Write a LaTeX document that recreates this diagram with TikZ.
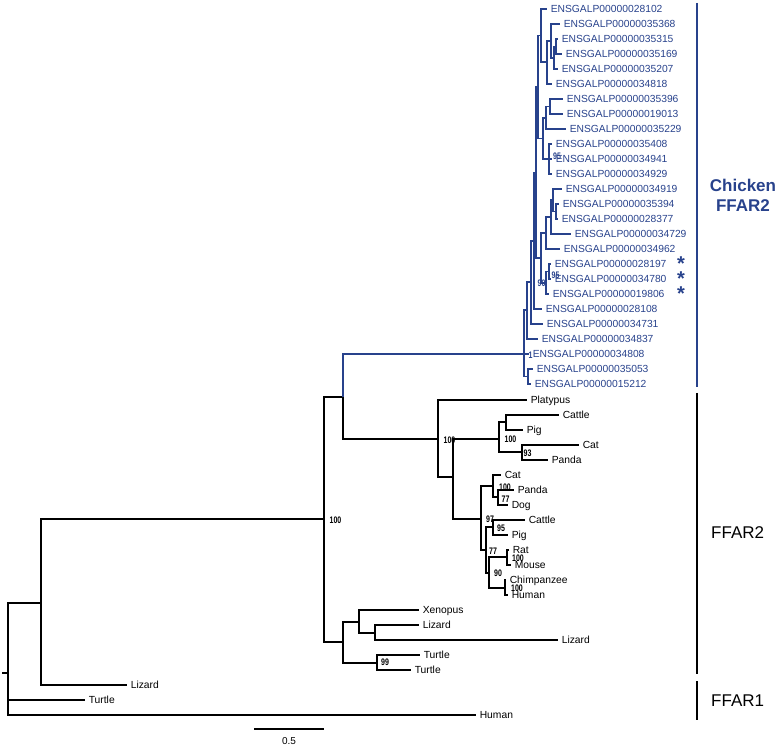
\documentclass[tikz,border=0pt]{standalone}
\usepackage{fontspec}
\usepackage{graphicx}
\setmainfont{Liberation Sans}
\definecolor{cblue}{RGB}{40,66,140}
\newcommand{\supnum}[1]{\scalebox{0.74}[1]{#1}}
\tikzset{
  br/.style={line width=1.3pt, black},
  bbr/.style={line width=1.1pt, cblue},
  tip/.style={anchor=west, inner xsep=3.6pt, inner ysep=0pt, text height=7.3pt, text depth=0pt, font=\fontsize{10.3}{12}\selectfont},
  btip/.style={tip, text=cblue},
  suplab/.style={inner sep=0pt, font=\fontsize{9.5}{9.5}\selectfont\bfseries},
  bsuplab/.style={suplab, text=cblue},
  cladebar/.style={line width=2pt},
}
\begin{document}
\begin{tikzpicture}[x=1pt,y=-1pt]
\useasboundingbox (0,0) rectangle (780,746);

% ---------- internal nodes (black) ----------
\coordinate (rootstub) at (2,673);
\coordinate (root) at (8,673);
\coordinate (A) at (41,603);
\coordinate (B) at (324,519);
\coordinate (C) at (343,397);
\coordinate (G) at (438,439);
\coordinate (H) at (453,477);
\coordinate (I) at (499,439);
\coordinate (K) at (506,422);
\coordinate (L) at (522,452);
\coordinate (J) at (481,519);
\coordinate (M) at (493,486);
\coordinate (PD) at (498,497);
\coordinate (O) at (486,550);
\coordinate (P) at (493,527);
\coordinate (Q) at (489,573);
\coordinate (R) at (507,557);
\coordinate (S) at (505,588);
\coordinate (D) at (343,642);
\coordinate (E) at (359,622);
\coordinate (E2) at (375,633);
\coordinate (F) at (377,663);

% ---------- black tips ----------
\node[tip] (platypus) at (527,400) {Platypus};
\node[tip] (cattle1) at (559,415) {Cattle};
\node[tip] (pig1) at (523,430) {Pig};
\node[tip] (cat1) at (579,445) {Cat};
\node[tip] (panda1) at (548,460) {Panda};
\node[tip] (cat2) at (501,475) {Cat};
\node[tip] (panda2) at (514,490) {Panda};
\node[tip] (dog) at (508,505) {Dog};
\node[tip] (cattle2) at (525,520) {Cattle};
\node[tip] (pig2) at (508,535) {Pig};
\node[tip] (rat) at (509,550) {Rat};
\node[tip] (mouse) at (511,565) {Mouse};
\node[tip] (chimp) at (506,580) {Chimpanzee};
\node[tip] (human1) at (508,595) {Human};
\node[tip] (xenopus) at (419,610) {Xenopus};
\node[tip] (lizard2) at (419,625) {Lizard};
\node[tip] (lizard3) at (558,640) {Lizard};
\node[tip] (turtle1) at (420,655) {Turtle};
\node[tip] (turtle2) at (411,670) {Turtle};
\node[tip] (lizard1) at (127,685) {Lizard};
\node[tip] (turtle3) at (85,700) {Turtle};
\node[tip] (human2) at (476,715) {Human};

% ---------- black branches ----------
\draw[br] (rootstub) -- (root);
\draw[br] (root) |- (A);
\draw[br] (root) |- (turtle3.west);
\draw[br] (root) |- (human2.west);
\draw[br] (A) |- (B);
\draw[br] (A) |- (lizard1.west);
\draw[br] (B) |- (C);
\draw[br] (B) |- (D);
\draw[br] (C) |- (G);
\draw[br] (G) |- (platypus.west);
\draw[br] (G) |- (H);
\draw[br] (H) |- (I);
\draw[br] (H) |- (J);
\draw[br] (I) |- (K);
\draw[br] (I) |- (L);
\draw[br] (K) |- (cattle1.west);
\draw[br] (K) |- (pig1.west);
\draw[br] (L) |- (cat1.west);
\draw[br] (L) |- (panda1.west);
\draw[br] (J) |- (M);
\draw[br] (J) |- (O);
\draw[br] (M) |- (cat2.west);
\draw[br] (M) |- (PD);
\draw[br] (PD) |- (panda2.west);
\draw[br] (PD) |- (dog.west);
\draw[br] (O) |- (P);
\draw[br] (O) |- (Q);
\draw[br] (P) |- (cattle2.west);
\draw[br] (P) |- (pig2.west);
\draw[br] (Q) |- (R);
\draw[br] (Q) |- (S);
\draw[br] (R) |- (rat.west);
\draw[br] (R) |- (mouse.west);
\draw[br] (S) |- (chimp.west);
\draw[br] (S) |- (human1.west);
\draw[br] (D) |- (E);
\draw[br] (D) |- (F);
\draw[br] (E) |- (xenopus.west);
\draw[br] (E) |- (E2);
\draw[br] (E2) |- (lizard2.west);
\draw[br] (E2) |- (lizard3.west);
\draw[br] (F) |- (turtle1.west);
\draw[br] (F) |- (turtle2.west);

% ---------- black support values ----------
\node[suplab] (sB) at (335.5,520) {\supnum{100}};
\node[suplab] (sG) at (449.5,440) {\supnum{100}};
\node[suplab] (sI) at (510.5,439.5) {\supnum{100}};
\node[suplab] (sL) at (527.5,453) {\supnum{93}};
\node[suplab] (sJ) at (490,519) {\supnum{97}};
\node[suplab] (sM) at (505,487) {\supnum{100}};
\node[suplab] (sPD) at (505.5,499) {\supnum{77}};
\node[suplab] (sO) at (493,551) {\supnum{77}};
\node[suplab] (sP) at (501,528) {\supnum{95}};
\node[suplab] (sQ) at (498,573) {\supnum{90}};
\node[suplab] (sR) at (518,558) {\supnum{100}};
\node[suplab] (sS) at (517,588) {\supnum{100}};
\node[suplab] (sF) at (385,662.5) {\supnum{99}};

% ---------- blue internal nodes ----------
\coordinate (broot) at (524,354);
\coordinate (bh) at (527,310);
\coordinate (bg) at (531,282);
\coordinate (bf) at (534,241);
\coordinate (be) at (536,172.5);
\coordinate (bb) at (538,87);
\coordinate (bd) at (541,258);
\coordinate (nt1) at (541,35.5);
\coordinate (nt2) at (547,62);
\coordinate (nt2a) at (551,41);
\coordinate (nt3) at (554,58);
\coordinate (nt4) at (556,46.5);
\coordinate (bc) at (543,138.4);
\coordinate (nu1) at (546,118);
\coordinate (nu2) at (550,106.5);
\coordinate (nv1) at (549,159);
\coordinate (nw1) at (546,233);
\coordinate (nw2) at (551,217);
\coordinate (nw3) at (553,200);
\coordinate (nw4) at (556,211.5);
\coordinate (nx1) at (546,283);
\coordinate (nx2) at (549,271.5);
\coordinate (V) at (528,376.5);

% ---------- blue tips ----------
\node[btip] (t1) at (547,9) {ENSGALP00000028102};
\node[btip] (t2) at (560,24) {ENSGALP00000035368};
\node[btip] (t3) at (558,39) {ENSGALP00000035315};
\node[btip] (t4) at (562,54) {ENSGALP00000035169};
\node[btip] (t5) at (558,69) {ENSGALP00000035207};
\node[btip] (t6) at (552,84) {ENSGALP00000034818};
\node[btip] (t7) at (563,99) {ENSGALP00000035396};
\node[btip] (t8) at (563,114) {ENSGALP00000019013};
\node[btip] (t9) at (566,129) {ENSGALP00000035229};
\node[btip] (t10) at (552,144) {ENSGALP00000035408};
\node[btip] (t11) at (552,159) {ENSGALP00000034941};
\node[btip] (t12) at (552,174) {ENSGALP00000034929};
\node[btip] (t13) at (562,189) {ENSGALP00000034919};
\node[btip] (t14) at (559,204) {ENSGALP00000035394};
\node[btip] (t15) at (558,219) {ENSGALP00000028377};
\node[btip] (t16) at (571,234) {ENSGALP00000034729};
\node[btip] (t17) at (560,249) {ENSGALP00000034962};
\node[btip] (t18) at (551,264) {ENSGALP00000028197};
\node[btip] (t19) at (551,279) {ENSGALP00000034780};
\node[btip] (t20) at (549,294) {ENSGALP00000019806};
\node[btip] (t21) at (542,309) {ENSGALP00000028108};
\node[btip] (t22) at (543,324) {ENSGALP00000034731};
\node[btip] (t23) at (538,339) {ENSGALP00000034837};
\node[btip] (t24) at (529,354) {ENSGALP00000034808};
\node[btip] (t25) at (533,369) {ENSGALP00000035053};
\node[btip] (t26) at (531,384) {ENSGALP00000015212};

% ---------- blue branches ----------
\draw[bbr] (C) |- (broot);
\draw[bbr] (broot) |- (bh);
\draw[bbr] (broot) |- (t24.west);
\draw[bbr] (broot) |- (V);
\draw[bbr] (V) |- (t25.west);
\draw[bbr] (V) |- (t26.west);
\draw[bbr] (bh) |- (bg);
\draw[bbr] (bh) |- (t23.west);
\draw[bbr] (bg) |- (bf);
\draw[bbr] (bg) |- (t22.west);
\draw[bbr] (bf) |- (be);
\draw[bbr] (bf) |- (t21.west);
\draw[bbr] (be) |- (bb);
\draw[bbr] (be) |- (bd);
\draw[bbr] (bb) |- (nt1);
\draw[bbr] (bb) |- (bc);
\draw[bbr] (nt1) |- (t1.west);
\draw[bbr] (nt1) |- (nt2);
\draw[bbr] (nt2) |- (nt2a);
\draw[bbr] (nt2) |- (t6.west);
\draw[bbr] (nt2a) |- (t2.west);
\draw[bbr] (nt2a) |- (nt3);
\draw[bbr] (nt3) |- (nt4);
\draw[bbr] (nt3) |- (t5.west);
\draw[bbr] (nt4) |- (t3.west);
\draw[bbr] (nt4) |- (t4.west);
\draw[bbr] (bc) |- (nu1);
\draw[bbr] (bc) |- (nv1);
\draw[bbr] (nu1) |- (nu2);
\draw[bbr] (nu1) |- (t9.west);
\draw[bbr] (nu2) |- (t7.west);
\draw[bbr] (nu2) |- (t8.west);
\draw[bbr] (nv1) |- (t10.west);
\draw[bbr] (nv1) |- (t11.west);
\draw[bbr] (nv1) |- (t12.west);
\draw[bbr] (bd) |- (nw1);
\draw[bbr] (bd) |- (nx1);
\draw[bbr] (nw1) |- (nw2);
\draw[bbr] (nw1) |- (t17.west);
\draw[bbr] (nw2) |- (nw3);
\draw[bbr] (nw2) |- (t16.west);
\draw[bbr] (nw3) |- (t13.west);
\draw[bbr] (nw3) |- (nw4);
\draw[bbr] (nw4) |- (t14.west);
\draw[bbr] (nw4) |- (t15.west);
\draw[bbr] (nx1) |- (nx2);
\draw[bbr] (nx1) |- (t20.west);
\draw[bbr] (nx2) |- (t18.west);
\draw[bbr] (nx2) |- (t19.west);

% ---------- blue support values ----------
\node[bsuplab] (s95a) at (557,156) {\supnum{95}};
\node[bsuplab] (s95b) at (555.5,275) {\supnum{95}};
\node[bsuplab] (s90) at (541.5,283) {\supnum{90}};
\node[bsuplab] (s1) at (530.5,355) {\supnum{1}};

% ---------- asterisks ----------
\foreach \yy/\nm in {264/a1,279/a2,294/a3}
  \node[inner sep=0pt, text=cblue, font=\fontsize{20}{20}\selectfont\bfseries] (\nm) at (681,\yy) {*};

% ---------- clade bars and labels ----------
\coordinate (bar1t) at (697,3);
\coordinate (bar1b) at (697,387);
\coordinate (bar2t) at (697,393);
\coordinate (bar2b) at (697,674);
\coordinate (bar3t) at (697,681);
\coordinate (bar3b) at (697,720);
\draw[cladebar, cblue] (bar1t) -- (bar1b);
\draw[cladebar] (bar2t) -- (bar2b);
\draw[cladebar] (bar3t) -- (bar3b);
\node[text=cblue, font=\fontsize{17}{20}\selectfont\bfseries, align=center, inner sep=0pt] (chick) at (743,195) {Chicken\\FFAR2};
\node[anchor=west, inner sep=0pt, font=\fontsize{17}{20}\selectfont] (ffar2) at (711,533) {FFAR2};
\node[anchor=west, inner sep=0pt, font=\fontsize{17}{20}\selectfont] (ffar1) at (711,701) {FFAR1};

% ---------- scale bar ----------
\coordinate (sc1) at (254,729);
\coordinate (sc2) at (324,729);
\draw[br] (sc1) -- (sc2);
\node[inner sep=0pt, font=\fontsize{10}{10}\selectfont] (sclab) at (289,741) {0.5};
\end{tikzpicture}
\end{document}
